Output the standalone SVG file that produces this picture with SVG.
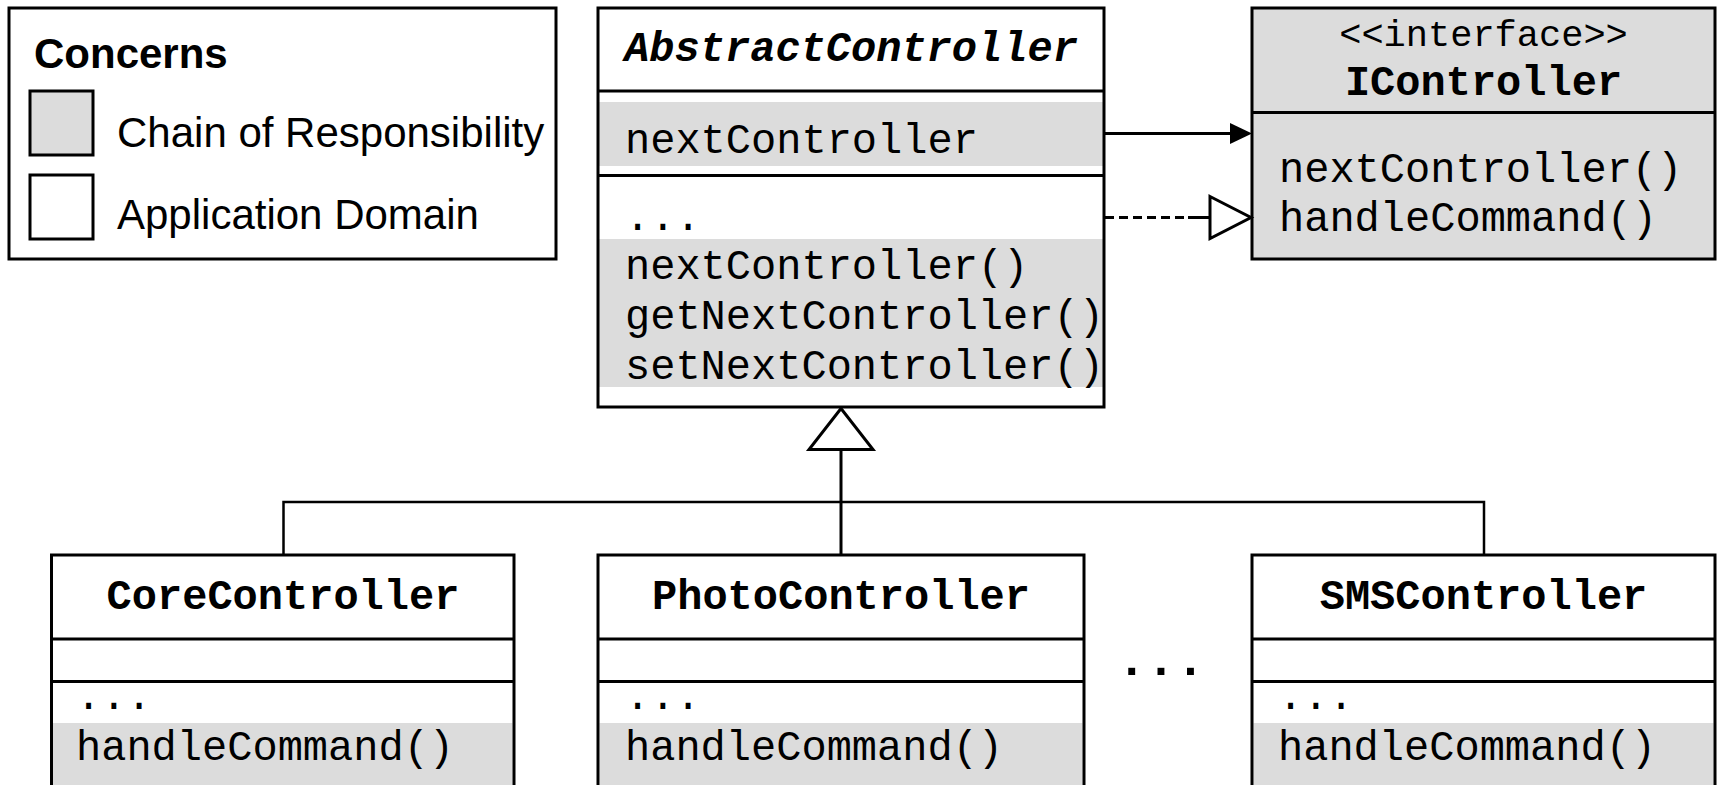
<svg xmlns="http://www.w3.org/2000/svg" width="1721" height="785" viewBox="0 0 1721 785">
<style>
.bg{fill:#ffffff}
.box{fill:none;stroke:#000;stroke-width:3}
.wfill{fill:#ffffff}
.gfill{fill:#dcdcdc}
.sep{stroke:#000;stroke-width:3}
.mono{font-family:"Liberation Mono","Courier New",monospace;font-size:42px;fill:#000}
.title{font-family:"Liberation Mono","Courier New",monospace;font-size:42px;font-weight:bold;fill:#000;text-anchor:middle}
.sans{font-family:"Liberation Sans",Arial,sans-serif;font-size:42px;fill:#000}
.line{fill:none;stroke:#000;stroke-width:3}
.thin{fill:none;stroke:#000;stroke-width:2.5}
.dash{fill:none;stroke:#000;stroke-width:3;stroke-dasharray:9 5}
.hollow{fill:#fff;stroke:#000;stroke-width:3;stroke-linejoin:miter}
.solidhead{fill:#000;stroke:none}
</style>
<rect class="bg" x="0" y="0" width="1721" height="785"/>

<g id="legend">
  <rect class="wfill" x="9" y="8" width="547" height="251"/>
  <rect class="box" x="9" y="8" width="547" height="251"/>
  <text class="sans" x="34" y="68" font-weight="bold">Concerns</text>
  <rect class="gfill" x="30" y="91" width="63" height="64"/>
  <rect class="box" x="30" y="91" width="63" height="64"/>
  <text class="sans" x="117" y="147">Chain of Responsibility</text>
  <rect class="wfill" x="30" y="175" width="63" height="64"/>
  <rect class="box" x="30" y="175" width="63" height="64"/>
  <text class="sans" x="117" y="229">Application Domain</text>
</g>

<g id="AbstractController">
  <rect class="wfill" x="598" y="8" width="506" height="399"/>
  <rect class="gfill" x="599" y="102" width="504" height="64"/>
  <rect class="gfill" x="599" y="239" width="504" height="148"/>
  <line class="sep" x1="598" y1="91" x2="1104" y2="91"/>
  <line class="sep" x1="598" y1="175.5" x2="1104" y2="175.5"/>
  <rect class="box" x="598" y="8" width="506" height="399"/>
  <text class="title" x="851" y="61" font-style="italic">AbstractController</text>
  <text class="mono" x="625" y="153">nextController</text>
  <text class="mono" x="625" y="230">...</text>
  <text class="mono" x="625" y="279">nextController()</text>
  <text class="mono" x="625" y="329">getNextController()</text>
  <text class="mono" x="625" y="379">setNextController()</text>
</g>

<g id="IController">
  <rect class="gfill" x="1252" y="8" width="463" height="251"/>
  <line class="sep" x1="1252" y1="112.5" x2="1715" y2="112.5"/>
  <rect class="box" x="1252" y="8" width="463" height="251"/>
  <text class="mono" x="1483.5" y="46" font-size="37" style="font-size:37px" text-anchor="middle">&lt;&lt;interface&gt;&gt;</text>
  <text class="title" x="1483.5" y="95">IController</text>
  <text class="mono" x="1279" y="182">nextController()</text>
  <text class="mono" x="1279" y="231">handleCommand()</text>
</g>

<g id="CoreController">
  <rect class="wfill" x="51.5" y="555" width="462.5" height="240"/>
  <rect class="gfill" x="53" y="723" width="459.5" height="70"/>
  <line class="sep" x1="51.5" y1="639" x2="514" y2="639"/>
  <line class="sep" x1="51.5" y1="681.5" x2="514" y2="681.5"/>
  <rect class="box" x="51.5" y="555" width="462.5" height="240"/>
  <text class="title" x="283" y="609">CoreController</text>
  <text class="mono" x="76" y="709">...</text>
  <text class="mono" x="76" y="760">handleCommand()</text>
</g>

<g id="PhotoController">
  <rect class="wfill" x="598" y="555" width="486" height="240"/>
  <rect class="gfill" x="599.5" y="723" width="483" height="70"/>
  <line class="sep" x1="598" y1="639" x2="1084" y2="639"/>
  <line class="sep" x1="598" y1="681.5" x2="1084" y2="681.5"/>
  <rect class="box" x="598" y="555" width="486" height="240"/>
  <text class="title" x="841" y="609">PhotoController</text>
  <text class="mono" x="625" y="709">...</text>
  <text class="mono" x="625" y="760">handleCommand()</text>
</g>

<g id="SMSController">
  <rect class="wfill" x="1252" y="555" width="463" height="240"/>
  <rect class="gfill" x="1253.5" y="723" width="460" height="70"/>
  <line class="sep" x1="1252" y1="639" x2="1715" y2="639"/>
  <line class="sep" x1="1252" y1="681.5" x2="1715" y2="681.5"/>
  <rect class="box" x="1252" y="555" width="463" height="240"/>
  <text class="title" x="1483.5" y="609">SMSController</text>
  <text class="mono" x="1278" y="709">...</text>
  <text class="mono" x="1278" y="760">handleCommand()</text>
</g>

<g id="ellipsis">
  <text class="mono" x="1161" y="675" text-anchor="middle" font-weight="bold" style="font-size:49px">...</text>
</g>

<g id="connectors">
  <line class="line" x1="1104" y1="133.5" x2="1232" y2="133.5"/>
  <polygon class="solidhead" points="1230,123 1252,133.5 1230,144"/>
  <line class="dash" x1="1105" y1="217.5" x2="1190" y2="217.5"/>
  <line class="line" x1="1188" y1="217.5" x2="1210" y2="217.5"/>
  <polygon class="hollow" points="1210,196.5 1251,217.5 1210,238.5"/>
  <polygon class="hollow" points="841,408.5 809,449.5 873,449.5"/>
  <line class="line" x1="841" y1="449.5" x2="841" y2="554"/>
  <polyline class="thin" points="283.5,554 283.5,502 1484,502 1484,554"/>
</g>
</svg>
